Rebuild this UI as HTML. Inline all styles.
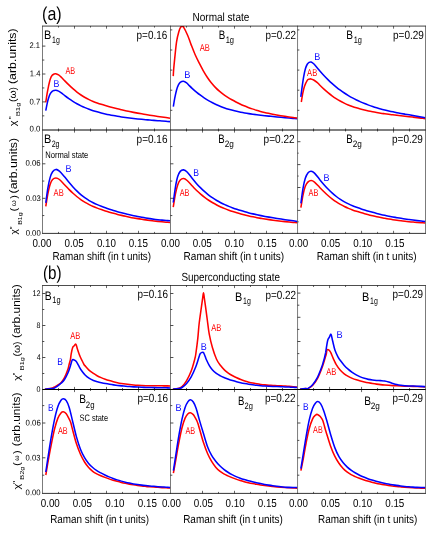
<!DOCTYPE html><html><head><meta charset="utf-8"><style>html,body{margin:0;padding:0;background:#fff}svg{display:block}svg{will-change:transform}text{font-family:"Liberation Sans",sans-serif;font-kerning:none}</style></head><body>
<svg xmlns="http://www.w3.org/2000/svg" width="436" height="545" viewBox="0 0 436 545">
<rect width="436" height="545" fill="#fff"/>
<defs>
<clipPath id="ca11"><rect x="42.50" y="26.10" width="128.00" height="103.90"/></clipPath>
<clipPath id="ca12"><rect x="170.50" y="26.10" width="127.05" height="103.90"/></clipPath>
<clipPath id="ca13"><rect x="297.55" y="26.10" width="127.95" height="103.90"/></clipPath>
<clipPath id="ca21"><rect x="42.50" y="130.00" width="128.00" height="103.40"/></clipPath>
<clipPath id="ca22"><rect x="170.50" y="130.00" width="127.05" height="103.40"/></clipPath>
<clipPath id="ca23"><rect x="297.55" y="130.00" width="127.95" height="103.40"/></clipPath>
<clipPath id="cb11"><rect x="42.50" y="285.50" width="128.00" height="104.70"/></clipPath>
<clipPath id="cb12"><rect x="170.50" y="285.50" width="127.05" height="104.70"/></clipPath>
<clipPath id="cb13"><rect x="297.55" y="285.50" width="127.95" height="104.70"/></clipPath>
<clipPath id="cb21"><rect x="42.50" y="389.50" width="128.00" height="103.90"/></clipPath>
<clipPath id="cb22"><rect x="170.50" y="389.50" width="127.05" height="103.90"/></clipPath>
<clipPath id="cb23"><rect x="297.55" y="389.50" width="127.95" height="103.90"/></clipPath>
</defs>
<g clip-path="url(#ca11)" fill="none" stroke-width="1.55" stroke-linejoin="round">
<path d="M45.75,110.70C45.98,109.55 46.64,105.87 47.10,103.80C47.56,101.73 47.97,99.98 48.50,98.30C49.03,96.62 49.68,94.85 50.30,93.70C50.92,92.55 51.58,91.93 52.20,91.40C52.82,90.87 53.40,90.70 54.00,90.50C54.60,90.30 55.03,90.10 55.80,90.20C56.57,90.30 57.68,90.67 58.60,91.10C59.52,91.53 60.27,92.04 61.30,92.80C62.33,93.56 63.54,94.69 64.80,95.67C66.06,96.66 67.50,97.75 68.85,98.70C70.19,99.65 71.54,100.54 72.89,101.38C74.24,102.22 75.59,103.01 76.94,103.75C78.29,104.49 79.64,105.18 80.98,105.83C82.33,106.48 83.68,107.08 85.03,107.66C86.38,108.23 87.73,108.75 89.08,109.25C90.43,109.75 91.77,110.21 93.12,110.65C94.47,111.09 95.82,111.49 97.17,111.87C98.52,112.26 99.87,112.61 101.22,112.96C102.56,113.30 103.91,113.62 105.26,113.92C106.61,114.23 107.96,114.52 109.31,114.80C110.66,115.08 112.01,115.34 113.35,115.59C114.70,115.84 116.05,116.07 117.40,116.30C118.75,116.53 120.10,116.74 121.45,116.94C122.79,117.15 124.14,117.34 125.49,117.52C126.84,117.71 128.19,117.88 129.54,118.04C130.89,118.21 132.24,118.37 133.58,118.52C134.93,118.67 136.28,118.81 137.63,118.94C138.98,119.08 140.33,119.21 141.68,119.34C143.03,119.46 144.37,119.58 145.72,119.70C147.07,119.81 148.42,119.93 149.77,120.04C151.12,120.15 152.47,120.25 153.82,120.36C155.16,120.47 156.51,120.57 157.86,120.67C159.21,120.78 160.56,120.88 161.91,120.99C163.26,121.09 164.61,121.20 165.95,121.30C167.30,121.41 169.33,121.58 170.00,121.63" stroke="#0000ff"/>
<path d="M45.75,102.40C45.98,100.95 46.64,96.38 47.10,93.70C47.56,91.02 47.97,88.75 48.50,86.30C49.03,83.85 49.68,80.83 50.30,79.00C50.92,77.17 51.58,76.12 52.20,75.30C52.82,74.47 53.40,74.32 54.00,74.05C54.60,73.78 55.03,73.56 55.80,73.70C56.57,73.84 57.68,74.32 58.60,74.90C59.52,75.48 60.27,76.21 61.30,77.20C62.33,78.19 63.54,79.56 64.80,80.84C66.06,82.13 67.50,83.61 68.85,84.92C70.19,86.22 71.54,87.48 72.89,88.67C74.24,89.86 75.59,91.00 76.94,92.05C78.29,93.10 79.64,94.09 80.98,95.00C82.33,95.91 83.68,96.73 85.03,97.50C86.38,98.28 87.73,98.97 89.08,99.63C90.43,100.28 91.77,100.88 93.12,101.44C94.47,102.00 95.82,102.50 97.17,102.99C98.52,103.47 99.87,103.92 101.22,104.35C102.56,104.78 103.91,105.19 105.26,105.59C106.61,105.99 107.96,106.37 109.31,106.75C110.66,107.12 112.01,107.48 113.35,107.83C114.70,108.18 116.05,108.52 117.40,108.85C118.75,109.19 120.10,109.50 121.45,109.82C122.79,110.13 124.14,110.43 125.49,110.72C126.84,111.01 128.19,111.29 129.54,111.57C130.89,111.85 132.24,112.11 133.58,112.37C134.93,112.63 136.28,112.88 137.63,113.13C138.98,113.38 140.33,113.62 141.68,113.85C143.03,114.08 144.37,114.31 145.72,114.53C147.07,114.76 148.42,114.98 149.77,115.19C151.12,115.40 152.47,115.61 153.82,115.82C155.16,116.02 156.51,116.22 157.86,116.42C159.21,116.62 160.56,116.82 161.91,117.01C163.26,117.20 164.61,117.39 165.95,117.58C167.30,117.77 169.33,118.06 170.00,118.15" stroke="#ff0000"/>
</g>
<g clip-path="url(#ca12)" fill="none" stroke-width="1.55" stroke-linejoin="round">
<path d="M173.30,106.70C173.53,105.32 174.17,101.15 174.70,98.40C175.23,95.65 175.90,92.42 176.50,90.20C177.10,87.98 177.68,86.40 178.30,85.10C178.92,83.80 179.35,83.05 180.20,82.40C181.05,81.75 182.33,81.13 183.40,81.20C184.47,81.27 185.62,82.07 186.60,82.80C187.58,83.53 188.33,84.64 189.30,85.60C190.27,86.56 191.21,87.48 192.40,88.56C193.59,89.64 195.08,90.97 196.43,92.09C197.77,93.20 199.11,94.25 200.45,95.24C201.80,96.24 203.14,97.18 204.48,98.06C205.82,98.95 207.17,99.78 208.51,100.56C209.85,101.35 211.19,102.08 212.53,102.78C213.88,103.47 215.22,104.11 216.56,104.72C217.90,105.33 219.25,105.89 220.59,106.43C221.93,106.96 223.27,107.45 224.62,107.92C225.96,108.38 227.30,108.81 228.64,109.22C229.98,109.62 231.33,110.00 232.67,110.35C234.01,110.71 235.35,111.03 236.70,111.34C238.04,111.65 239.38,111.94 240.72,112.21C242.07,112.48 243.41,112.73 244.75,112.97C246.09,113.21 247.43,113.43 248.78,113.64C250.12,113.85 251.46,114.04 252.80,114.23C254.15,114.42 255.49,114.59 256.83,114.76C258.17,114.93 259.52,115.09 260.86,115.25C262.20,115.41 263.54,115.56 264.88,115.71C266.23,115.86 267.57,116.00 268.91,116.14C270.25,116.29 271.60,116.42 272.94,116.56C274.28,116.69 275.62,116.83 276.97,116.96C278.31,117.08 279.65,117.21 280.99,117.34C282.33,117.46 283.68,117.59 285.02,117.71C286.36,117.83 287.70,117.95 289.05,118.07C290.39,118.19 291.73,118.31 293.07,118.43C294.42,118.55 296.43,118.73 297.10,118.79" stroke="#0000ff"/>
<path d="M173.25,76.10C173.32,74.92 173.45,72.00 173.70,69.00C173.95,66.00 174.27,62.67 174.75,58.10C175.23,53.53 175.91,46.03 176.60,41.60C177.29,37.17 178.22,33.90 178.90,31.50C179.58,29.10 180.17,28.03 180.70,27.20C181.23,26.37 181.65,26.55 182.10,26.50C182.55,26.45 182.48,25.45 183.40,26.90C184.32,28.35 186.44,32.60 187.60,35.20C188.76,37.80 189.77,40.93 190.35,42.50C190.93,44.07 190.30,42.55 191.10,44.60C191.90,46.65 193.82,51.69 195.18,54.79C196.54,57.89 197.89,60.55 199.25,63.22C200.61,65.88 201.97,68.41 203.33,70.78C204.69,73.16 206.05,75.43 207.41,77.48C208.77,79.52 210.13,81.36 211.48,83.05C212.84,84.74 214.20,86.24 215.56,87.63C216.92,89.02 218.28,90.25 219.64,91.40C221.00,92.56 222.36,93.58 223.72,94.56C225.07,95.54 226.43,96.42 227.79,97.29C229.15,98.15 230.51,98.96 231.87,99.74C233.23,100.52 234.59,101.26 235.95,101.97C237.31,102.67 238.66,103.34 240.02,103.98C241.38,104.62 242.74,105.22 244.10,105.80C245.46,106.37 246.82,106.91 248.18,107.43C249.54,107.95 250.89,108.43 252.25,108.89C253.61,109.36 254.97,109.79 256.33,110.21C257.69,110.62 259.05,111.01 260.41,111.38C261.77,111.75 263.13,112.09 264.48,112.42C265.84,112.76 267.20,113.07 268.56,113.36C269.92,113.66 271.28,113.94 272.64,114.21C274.00,114.47 275.36,114.72 276.72,114.97C278.07,115.21 279.43,115.44 280.79,115.67C282.15,115.89 283.51,116.10 284.87,116.31C286.23,116.52 287.59,116.72 288.95,116.92C290.31,117.12 291.66,117.31 293.02,117.51C294.38,117.70 296.42,117.99 297.10,118.09" stroke="#ff0000"/>
</g>
<g clip-path="url(#ca13)" fill="none" stroke-width="1.55" stroke-linejoin="round">
<path d="M301.30,102.00C301.53,100.60 302.17,96.22 302.70,93.60C303.23,90.98 303.74,88.52 304.50,86.30C305.26,84.08 306.48,81.48 307.25,80.30C308.02,79.12 308.49,79.43 309.10,79.20C309.71,78.97 310.13,78.77 310.90,78.90C311.67,79.03 312.62,79.38 313.70,80.00C314.77,80.62 316.32,81.73 317.35,82.60C318.38,83.47 318.80,84.13 319.90,85.22C321.00,86.32 322.60,87.92 323.95,89.16C325.30,90.41 326.65,91.59 328.00,92.71C329.35,93.82 330.70,94.87 332.05,95.86C333.40,96.85 334.75,97.77 336.10,98.64C337.45,99.50 338.80,100.30 340.15,101.05C341.50,101.80 342.85,102.48 344.20,103.13C345.55,103.78 346.90,104.37 348.25,104.92C349.60,105.48 350.95,105.99 352.30,106.47C353.65,106.95 355.00,107.39 356.35,107.80C357.70,108.22 359.05,108.60 360.40,108.97C361.75,109.33 363.10,109.67 364.45,110.00C365.80,110.32 367.15,110.63 368.50,110.92C369.85,111.21 371.20,111.48 372.55,111.75C373.90,112.01 375.25,112.25 376.60,112.49C377.95,112.72 379.30,112.94 380.65,113.15C382.00,113.37 383.35,113.56 384.70,113.76C386.05,113.95 387.40,114.13 388.75,114.31C390.10,114.49 391.45,114.65 392.80,114.82C394.15,114.98 395.50,115.14 396.85,115.30C398.20,115.45 399.55,115.61 400.90,115.76C402.25,115.91 403.60,116.06 404.95,116.21C406.30,116.36 407.65,116.51 409.00,116.66C410.35,116.81 411.70,116.97 413.05,117.13C414.40,117.29 415.75,117.45 417.10,117.62C418.45,117.79 419.80,117.96 421.15,118.14C422.50,118.33 424.52,118.62 425.20,118.71" stroke="#ff0000"/>
<path d="M300.80,96.80C301.03,95.05 301.73,89.58 302.20,86.30C302.67,83.02 303.07,80.02 303.60,77.10C304.13,74.18 304.79,70.94 305.40,68.80C306.01,66.66 306.63,65.32 307.25,64.25C307.87,63.18 308.46,62.77 309.10,62.40C309.74,62.02 310.33,61.77 311.10,62.00C311.87,62.23 312.66,62.82 313.70,63.80C314.74,64.78 316.28,66.65 317.35,67.90C318.42,69.15 318.97,69.98 320.10,71.29C321.23,72.61 322.79,74.35 324.14,75.78C325.49,77.21 326.84,78.58 328.18,79.89C329.53,81.20 330.88,82.45 332.23,83.65C333.57,84.84 334.92,85.98 336.27,87.07C337.62,88.16 338.96,89.20 340.31,90.19C341.66,91.18 343.01,92.12 344.35,93.01C345.70,93.91 347.05,94.76 348.40,95.58C349.74,96.39 351.09,97.16 352.44,97.89C353.79,98.63 355.13,99.32 356.48,99.98C357.83,100.65 359.18,101.27 360.52,101.88C361.87,102.48 363.22,103.04 364.57,103.59C365.91,104.13 367.26,104.65 368.61,105.14C369.96,105.63 371.30,106.10 372.65,106.54C374.00,106.99 375.34,107.41 376.69,107.81C378.04,108.21 379.39,108.60 380.73,108.96C382.08,109.33 383.43,109.67 384.78,110.01C386.12,110.34 387.47,110.66 388.82,110.96C390.17,111.27 391.51,111.56 392.86,111.84C394.21,112.12 395.56,112.39 396.90,112.65C398.25,112.92 399.60,113.17 400.95,113.42C402.29,113.67 403.64,113.91 404.99,114.15C406.34,114.39 407.68,114.63 409.03,114.86C410.38,115.10 411.73,115.33 413.07,115.57C414.42,115.80 415.77,116.04 417.12,116.28C418.46,116.52 419.81,116.76 421.16,117.01C422.51,117.27 424.53,117.66 425.20,117.79" stroke="#0000ff"/>
</g>
<g clip-path="url(#ca21)" fill="none" stroke-width="1.55" stroke-linejoin="round">
<path d="M45.80,206.40C46.13,204.35 47.08,197.77 47.80,194.10C48.52,190.43 49.30,186.83 50.10,184.40C50.90,181.97 51.63,180.57 52.60,179.50C53.57,178.43 54.77,178.00 55.90,178.00C57.03,178.00 58.00,178.42 59.40,179.50C60.80,180.58 62.71,182.81 64.30,184.46C65.89,186.11 67.50,187.94 68.95,189.41C70.39,190.87 71.64,192.04 72.99,193.26C74.34,194.48 75.69,195.64 77.04,196.73C78.39,197.81 79.74,198.82 81.08,199.76C82.43,200.69 83.78,201.55 85.13,202.35C86.48,203.15 87.83,203.88 89.18,204.57C90.53,205.26 91.87,205.89 93.22,206.48C94.57,207.07 95.92,207.61 97.27,208.13C98.62,208.65 99.97,209.13 101.32,209.59C102.66,210.06 104.01,210.50 105.36,210.92C106.71,211.35 108.06,211.76 109.41,212.16C110.76,212.56 112.11,212.94 113.45,213.31C114.80,213.68 116.15,214.04 117.50,214.38C118.85,214.73 120.20,215.06 121.55,215.37C122.89,215.69 124.24,216.00 125.59,216.29C126.94,216.58 128.29,216.86 129.64,217.14C130.99,217.41 132.34,217.67 133.68,217.91C135.03,218.16 136.38,218.40 137.73,218.63C139.08,218.86 140.43,219.07 141.78,219.28C143.13,219.49 144.47,219.69 145.82,219.88C147.17,220.07 148.52,220.25 149.87,220.43C151.22,220.60 152.57,220.77 153.92,220.92C155.26,221.08 156.61,221.23 157.96,221.38C159.31,221.52 160.66,221.66 162.01,221.79C163.36,221.92 164.71,222.04 166.05,222.16C167.40,222.28 169.43,222.44 170.10,222.50" stroke="#ff0000"/>
<path d="M45.80,202.90C46.13,200.47 47.08,192.52 47.80,188.30C48.52,184.08 49.30,180.37 50.10,177.60C50.90,174.83 51.63,173.07 52.60,171.70C53.57,170.33 54.77,169.48 55.90,169.40C57.03,169.32 58.00,170.01 59.40,171.20C60.80,172.39 62.71,174.69 64.30,176.53C65.89,178.38 67.50,180.53 68.95,182.26C70.39,183.99 71.64,185.43 72.99,186.92C74.34,188.40 75.69,189.85 77.04,191.17C78.39,192.50 79.74,193.74 81.08,194.87C82.43,196.00 83.78,197.03 85.13,197.98C86.48,198.93 87.83,199.79 89.18,200.59C90.53,201.39 91.87,202.10 93.22,202.78C94.57,203.45 95.92,204.06 97.27,204.64C98.62,205.23 99.97,205.76 101.32,206.27C102.66,206.79 104.01,207.28 105.36,207.75C106.71,208.23 108.06,208.69 109.41,209.14C110.76,209.59 112.11,210.02 113.45,210.44C114.80,210.86 116.15,211.26 117.50,211.65C118.85,212.05 120.20,212.42 121.55,212.79C122.89,213.15 124.24,213.50 125.59,213.84C126.94,214.18 128.29,214.50 129.64,214.82C130.99,215.13 132.34,215.43 133.68,215.72C135.03,216.01 136.38,216.28 137.73,216.55C139.08,216.81 140.43,217.06 141.78,217.30C143.13,217.55 144.47,217.78 145.82,217.99C147.17,218.21 148.52,218.42 149.87,218.62C151.22,218.82 152.57,219.00 153.92,219.18C155.26,219.36 156.61,219.52 157.96,219.68C159.31,219.84 160.66,219.99 162.01,220.12C163.36,220.26 164.71,220.39 166.05,220.51C167.40,220.63 169.43,220.79 170.10,220.84" stroke="#0000ff"/>
</g>
<g clip-path="url(#ca22)" fill="none" stroke-width="1.55" stroke-linejoin="round">
<path d="M173.25,207.20C173.61,205.02 174.66,197.80 175.40,194.10C176.14,190.40 176.89,187.33 177.70,185.00C178.51,182.67 179.27,181.17 180.25,180.10C181.23,179.03 182.46,178.53 183.60,178.60C184.74,178.67 185.65,179.26 187.10,180.50C188.55,181.74 190.71,184.38 192.30,186.06C193.89,187.73 195.23,189.20 196.62,190.56C198.01,191.91 199.31,193.03 200.65,194.18C201.99,195.32 203.33,196.39 204.67,197.41C206.01,198.43 207.35,199.38 208.69,200.27C210.03,201.17 211.37,202.00 212.72,202.79C214.06,203.57 215.40,204.30 216.74,204.99C218.08,205.68 219.42,206.32 220.76,206.93C222.10,207.54 223.44,208.10 224.78,208.64C226.13,209.18 227.47,209.68 228.81,210.16C230.15,210.64 231.49,211.10 232.83,211.54C234.17,211.98 235.51,212.39 236.85,212.80C238.19,213.20 239.54,213.58 240.88,213.95C242.22,214.32 243.56,214.67 244.90,215.00C246.24,215.34 247.58,215.66 248.92,215.96C250.26,216.27 251.61,216.56 252.95,216.84C254.29,217.12 255.63,217.38 256.97,217.64C258.31,217.89 259.65,218.13 260.99,218.37C262.33,218.60 263.67,218.82 265.02,219.03C266.36,219.24 267.70,219.44 269.04,219.63C270.38,219.83 271.72,220.01 273.06,220.19C274.40,220.36 275.74,220.53 277.08,220.70C278.43,220.86 279.77,221.02 281.11,221.17C282.45,221.32 283.79,221.47 285.13,221.62C286.47,221.76 287.81,221.90 289.15,222.04C290.49,222.18 291.84,222.31 293.18,222.44C294.52,222.58 296.53,222.77 297.20,222.84" stroke="#ff0000"/>
<path d="M173.25,202.50C173.61,199.97 174.66,191.62 175.40,187.30C176.14,182.98 176.89,179.25 177.70,176.60C178.51,173.95 179.27,172.49 180.25,171.38C181.23,170.26 182.46,169.80 183.60,169.89C184.74,169.98 185.65,170.51 187.10,171.94C188.55,173.37 190.71,176.49 192.30,178.45C193.89,180.40 195.23,182.09 196.62,183.67C198.01,185.24 199.31,186.57 200.65,187.91C201.99,189.25 203.33,190.51 204.67,191.70C206.01,192.89 207.35,194.00 208.69,195.04C210.03,196.08 211.37,197.05 212.72,197.96C214.06,198.87 215.40,199.70 216.74,200.49C218.08,201.29 219.42,202.02 220.76,202.71C222.10,203.40 223.44,204.04 224.78,204.64C226.13,205.25 227.47,205.82 228.81,206.36C230.15,206.90 231.49,207.41 232.83,207.90C234.17,208.40 235.51,208.87 236.85,209.32C238.19,209.77 239.54,210.20 240.88,210.61C242.22,211.03 243.56,211.42 244.90,211.80C246.24,212.18 247.58,212.54 248.92,212.88C250.26,213.23 251.61,213.56 252.95,213.87C254.29,214.19 255.63,214.49 256.97,214.79C258.31,215.08 259.65,215.36 260.99,215.63C262.33,215.89 263.67,216.15 265.02,216.40C266.36,216.65 267.70,216.89 269.04,217.12C270.38,217.35 271.72,217.58 273.06,217.80C274.40,218.02 275.74,218.23 277.08,218.44C278.43,218.65 279.77,218.85 281.11,219.05C282.45,219.25 283.79,219.45 285.13,219.65C286.47,219.84 287.81,220.04 289.15,220.23C290.49,220.43 291.84,220.62 293.18,220.82C294.52,221.02 296.53,221.32 297.20,221.42" stroke="#0000ff"/>
</g>
<g clip-path="url(#ca23)" fill="none" stroke-width="1.55" stroke-linejoin="round">
<path d="M300.90,207.70C301.25,205.60 302.27,198.67 303.00,195.10C303.73,191.53 304.45,188.50 305.30,186.30C306.15,184.10 307.12,182.87 308.10,181.90C309.08,180.93 310.13,180.47 311.20,180.50C312.27,180.53 313.15,181.02 314.50,182.10C315.85,183.18 318.35,185.97 319.30,186.96C320.25,187.95 319.38,187.19 320.20,188.04C321.02,188.88 322.89,190.75 324.24,192.03C325.58,193.31 326.93,194.55 328.28,195.72C329.62,196.89 330.97,198.00 332.32,199.04C333.66,200.08 335.01,201.04 336.35,201.94C337.70,202.84 339.05,203.65 340.39,204.42C341.74,205.19 343.08,205.89 344.43,206.54C345.78,207.20 347.12,207.79 348.47,208.36C349.82,208.92 351.16,209.44 352.51,209.93C353.85,210.42 355.20,210.87 356.55,211.31C357.89,211.75 359.24,212.16 360.58,212.56C361.93,212.96 363.28,213.35 364.62,213.72C365.97,214.09 367.32,214.45 368.66,214.80C370.01,215.14 371.35,215.48 372.70,215.80C374.05,216.12 375.39,216.43 376.74,216.72C378.08,217.02 379.43,217.30 380.78,217.58C382.12,217.85 383.47,218.11 384.82,218.36C386.16,218.61 387.51,218.85 388.85,219.07C390.20,219.30 391.55,219.52 392.89,219.72C394.24,219.93 395.58,220.13 396.93,220.31C398.28,220.50 399.62,220.67 400.97,220.84C402.32,221.01 403.66,221.16 405.01,221.31C406.35,221.46 407.70,221.60 409.05,221.73C410.39,221.86 411.74,221.98 413.08,222.09C414.43,222.21 415.78,222.31 417.12,222.41C418.47,222.50 419.82,222.59 421.16,222.68C422.51,222.76 424.53,222.86 425.20,222.90" stroke="#ff0000"/>
<path d="M300.90,203.30C301.25,200.80 302.27,192.48 303.00,188.30C303.73,184.12 304.45,180.80 305.30,178.20C306.15,175.60 307.12,173.87 308.10,172.70C309.08,171.53 310.13,171.13 311.20,171.20C312.27,171.27 313.15,171.81 314.50,173.10C315.85,174.39 318.35,177.73 319.30,178.91C320.25,180.09 319.38,179.19 320.20,180.18C321.02,181.18 322.89,183.39 324.24,184.90C325.58,186.41 326.93,187.87 328.28,189.24C329.62,190.61 330.97,191.91 332.32,193.12C333.66,194.33 335.01,195.46 336.35,196.50C337.70,197.54 339.05,198.49 340.39,199.38C341.74,200.27 343.08,201.07 344.43,201.83C345.78,202.59 347.12,203.27 348.47,203.92C349.82,204.56 351.16,205.15 352.51,205.71C353.85,206.27 355.20,206.78 356.55,207.28C357.89,207.78 359.24,208.24 360.58,208.70C361.93,209.15 363.28,209.59 364.62,210.01C365.97,210.43 367.32,210.84 368.66,211.23C370.01,211.63 371.35,212.01 372.70,212.37C374.05,212.74 375.39,213.09 376.74,213.43C378.08,213.77 379.43,214.10 380.78,214.41C382.12,214.73 383.47,215.03 384.82,215.32C386.16,215.61 387.51,215.89 388.85,216.16C390.20,216.43 391.55,216.69 392.89,216.95C394.24,217.20 395.58,217.44 396.93,217.67C398.28,217.90 399.62,218.13 400.97,218.34C402.32,218.56 403.66,218.77 405.01,218.97C406.35,219.17 407.70,219.37 409.05,219.56C410.39,219.74 411.74,219.93 413.08,220.10C414.43,220.28 415.78,220.45 417.12,220.62C418.47,220.78 419.82,220.94 421.16,221.10C422.51,221.26 424.53,221.49 425.20,221.57" stroke="#0000ff"/>
</g>
<g clip-path="url(#cb11)" fill="none" stroke-width="1.55" stroke-linejoin="round">
<path d="M44.90,389.20C46.03,389.03 49.98,388.63 51.70,388.20C53.42,387.77 54.15,387.15 55.20,386.60C56.25,386.05 57.03,385.54 58.00,384.90C58.97,384.26 59.92,383.95 61.00,382.75C62.08,381.55 63.33,379.99 64.50,377.70C65.67,375.41 67.23,371.20 68.00,369.00C68.77,366.80 68.70,366.07 69.10,364.50C69.50,362.93 70.05,361.37 70.40,359.60C70.75,357.83 70.83,355.87 71.20,353.90C71.57,351.93 72.10,349.15 72.60,347.80C73.10,346.45 73.65,346.40 74.20,345.80C74.75,345.20 75.37,343.67 75.90,344.20C76.43,344.73 76.87,347.37 77.40,349.00C77.93,350.63 78.63,352.72 79.10,354.00C79.57,355.28 79.73,355.65 80.20,356.70C80.67,357.75 81.27,359.00 81.90,360.30C82.53,361.60 83.50,363.61 84.00,364.50C84.50,365.39 84.07,364.69 84.90,365.62C85.73,366.55 87.60,368.82 88.96,370.08C90.31,371.34 91.66,372.25 93.01,373.19C94.37,374.12 95.72,374.96 97.07,375.70C98.42,376.44 99.78,377.07 101.13,377.66C102.48,378.24 103.83,378.73 105.19,379.22C106.54,379.70 107.89,380.14 109.24,380.55C110.60,380.96 111.95,381.34 113.30,381.69C114.65,382.04 116.00,382.36 117.36,382.65C118.71,382.94 120.06,383.20 121.41,383.44C122.77,383.68 124.12,383.90 125.47,384.09C126.82,384.28 128.18,384.45 129.53,384.60C130.88,384.75 132.23,384.88 133.59,385.00C134.94,385.11 136.29,385.21 137.64,385.29C139.00,385.38 140.35,385.45 141.70,385.50C143.05,385.56 144.40,385.61 145.76,385.65C147.11,385.68 148.46,385.71 149.81,385.73C151.17,385.76 152.52,385.77 153.87,385.79C155.22,385.80 156.58,385.81 157.93,385.82C159.28,385.82 160.63,385.83 161.99,385.84C163.34,385.85 164.69,385.86 166.04,385.87C167.40,385.89 169.42,385.92 170.10,385.93" stroke="#ff0000"/>
<path d="M44.90,389.20C46.04,389.10 50.23,388.77 51.75,388.60C53.27,388.43 53.04,388.62 54.00,388.20C54.96,387.78 56.33,386.92 57.50,386.10C58.67,385.28 59.83,384.40 61.00,383.30C62.17,382.20 63.33,381.25 64.50,379.50C65.67,377.75 67.02,375.07 68.00,372.80C68.98,370.53 69.68,368.05 70.40,365.90C71.12,363.75 71.67,360.88 72.30,359.90C72.93,358.92 73.53,359.75 74.20,360.00C74.87,360.25 75.60,360.53 76.30,361.40C77.00,362.27 77.57,363.73 78.40,365.20C79.23,366.67 80.14,368.57 81.30,370.24C82.46,371.91 83.99,373.83 85.34,375.20C86.68,376.56 88.03,377.56 89.37,378.44C90.72,379.31 92.06,379.90 93.41,380.45C94.75,381.01 96.10,381.38 97.45,381.76C98.79,382.14 100.14,382.44 101.48,382.74C102.83,383.03 104.17,383.29 105.52,383.54C106.86,383.79 108.21,384.02 109.55,384.24C110.90,384.46 112.25,384.67 113.59,384.86C114.94,385.05 116.28,385.23 117.63,385.40C118.97,385.56 120.32,385.71 121.66,385.86C123.01,386.00 124.35,386.13 125.70,386.25C127.05,386.37 128.39,386.48 129.74,386.59C131.08,386.69 132.43,386.78 133.77,386.86C135.12,386.95 136.46,387.02 137.81,387.09C139.15,387.16 140.50,387.22 141.85,387.28C143.19,387.33 144.54,387.38 145.88,387.43C147.23,387.47 148.57,387.51 149.92,387.54C151.26,387.58 152.61,387.61 153.95,387.64C155.30,387.67 156.65,387.69 157.99,387.72C159.34,387.74 160.68,387.76 162.03,387.78C163.37,387.80 164.72,387.82 166.06,387.84C167.41,387.86 169.43,387.89 170.10,387.90" stroke="#0000ff"/>
</g>
<g clip-path="url(#cb12)" fill="none" stroke-width="1.55" stroke-linejoin="round">
<path d="M172.90,389.20C173.70,389.10 176.18,389.03 177.70,388.60C179.22,388.17 180.52,387.93 182.00,386.60C183.48,385.27 185.07,383.20 186.60,380.60C188.13,378.00 189.98,374.05 191.20,371.00C192.42,367.95 193.27,364.47 193.90,362.30C194.53,360.13 194.68,359.38 195.00,358.00C195.32,356.62 195.33,357.28 195.80,354.00C196.27,350.72 197.25,343.30 197.80,338.30C198.35,333.30 198.50,329.20 199.10,324.00C199.70,318.80 200.82,311.35 201.40,307.10C201.98,302.85 202.25,300.88 202.60,298.50C202.95,296.12 203.20,292.80 203.50,292.80C203.80,292.80 204.05,296.12 204.40,298.50C204.75,300.88 205.12,303.52 205.60,307.10C206.08,310.68 206.70,315.55 207.30,320.00C207.90,324.45 208.35,329.22 209.20,333.80C210.05,338.38 211.18,343.27 212.40,347.50C213.62,351.73 215.17,356.19 216.53,359.20C217.89,362.21 219.22,363.74 220.57,365.56C221.91,367.37 223.26,368.80 224.60,370.09C225.94,371.39 227.29,372.38 228.63,373.32C229.98,374.27 231.32,375.02 232.67,375.76C234.01,376.51 235.36,377.18 236.70,377.81C238.04,378.44 239.39,379.01 240.73,379.53C242.08,380.06 243.42,380.53 244.77,380.97C246.11,381.41 247.46,381.79 248.80,382.15C250.14,382.50 251.49,382.81 252.83,383.09C254.18,383.38 255.52,383.62 256.87,383.84C258.21,384.06 259.56,384.25 260.90,384.42C262.24,384.60 263.59,384.74 264.93,384.87C266.28,385.00 267.62,385.11 268.97,385.20C270.31,385.30 271.66,385.39 273.00,385.47C274.34,385.54 275.69,385.61 277.03,385.68C278.38,385.75 279.72,385.81 281.07,385.88C282.41,385.95 283.76,386.01 285.10,386.09C286.44,386.17 287.79,386.25 289.13,386.35C290.48,386.45 291.82,386.55 293.17,386.68C294.51,386.81 296.53,387.05 297.20,387.12" stroke="#ff0000"/>
<path d="M172.90,389.20C173.87,389.10 177.18,388.88 178.70,388.60C180.22,388.32 180.68,388.37 182.00,387.50C183.32,386.63 185.07,385.17 186.60,383.40C188.13,381.63 189.67,379.67 191.20,376.90C192.73,374.13 194.58,369.85 195.80,366.80C197.02,363.75 197.88,360.50 198.50,358.60C199.12,356.70 199.20,356.27 199.50,355.40C199.80,354.53 199.93,353.87 200.30,353.40C200.67,352.93 201.20,352.77 201.70,352.60C202.20,352.43 202.87,352.12 203.30,352.40C203.73,352.68 203.97,353.57 204.30,354.30C204.63,355.03 204.97,355.93 205.30,356.80C205.63,357.67 205.60,357.98 206.30,359.50C207.00,361.02 208.50,364.21 209.50,365.90C210.50,367.59 211.16,368.39 212.30,369.66C213.44,370.92 215.00,372.44 216.34,373.48C217.69,374.52 219.04,375.20 220.39,375.90C221.73,376.60 223.08,377.14 224.43,377.70C225.78,378.26 227.12,378.78 228.47,379.26C229.82,379.74 231.17,380.18 232.51,380.60C233.86,381.01 235.21,381.39 236.56,381.75C237.90,382.10 239.25,382.42 240.60,382.73C241.95,383.03 243.30,383.30 244.64,383.56C245.99,383.81 247.34,384.04 248.69,384.25C250.03,384.46 251.38,384.65 252.73,384.82C254.08,385.00 255.42,385.15 256.77,385.29C258.12,385.44 259.47,385.56 260.81,385.67C262.16,385.79 263.51,385.89 264.86,385.98C266.20,386.07 267.55,386.15 268.90,386.23C270.25,386.30 271.60,386.36 272.94,386.43C274.29,386.49 275.64,386.54 276.99,386.60C278.33,386.66 279.68,386.71 281.03,386.76C282.38,386.81 283.72,386.86 285.07,386.92C286.42,386.97 287.77,387.03 289.11,387.09C290.46,387.16 291.81,387.22 293.16,387.30C294.50,387.38 296.53,387.51 297.20,387.56" stroke="#0000ff"/>
</g>
<g clip-path="url(#cb13)" fill="none" stroke-width="1.55" stroke-linejoin="round">
<path d="M300.00,389.20C300.95,389.10 304.27,388.73 305.70,388.60C307.13,388.47 307.35,389.05 308.60,388.40C309.85,387.75 311.67,386.45 313.20,384.70C314.73,382.95 316.27,380.88 317.80,377.90C319.33,374.92 321.17,370.17 322.40,366.80C323.63,363.43 324.55,359.83 325.20,357.70C325.85,355.57 325.98,355.32 326.30,354.00C326.62,352.68 326.60,350.42 327.10,349.80C327.60,349.18 328.68,349.83 329.30,350.30C329.92,350.77 330.17,351.30 330.80,352.60C331.43,353.90 332.47,356.65 333.10,358.10C333.73,359.55 334.10,360.26 334.60,361.30C335.10,362.34 335.18,362.86 336.10,364.33C337.03,365.80 338.80,368.54 340.15,370.12C341.50,371.71 342.85,372.78 344.20,373.84C345.55,374.89 346.90,375.69 348.25,376.44C349.60,377.20 350.95,377.80 352.30,378.36C353.65,378.91 355.00,379.36 356.35,379.79C357.70,380.22 359.05,380.59 360.40,380.95C361.75,381.31 363.10,381.64 364.45,381.94C365.80,382.25 367.15,382.53 368.50,382.80C369.85,383.06 371.20,383.30 372.55,383.52C373.90,383.74 375.25,383.94 376.60,384.12C377.95,384.30 379.30,384.47 380.65,384.62C382.00,384.77 383.35,384.90 384.70,385.02C386.05,385.14 387.40,385.25 388.75,385.35C390.10,385.45 391.45,385.53 392.80,385.61C394.15,385.69 395.50,385.75 396.85,385.82C398.20,385.88 399.55,385.93 400.90,385.98C402.25,386.03 403.60,386.08 404.95,386.12C406.30,386.17 407.65,386.21 409.00,386.25C410.35,386.29 411.70,386.33 413.05,386.38C414.40,386.42 415.75,386.47 417.10,386.52C418.45,386.57 419.80,386.62 421.15,386.68C422.50,386.74 424.52,386.85 425.20,386.89" stroke="#ff0000"/>
<path d="M300.00,389.20C300.95,389.10 304.37,388.73 305.70,388.60C307.03,388.47 306.85,389.05 308.00,388.40C309.15,387.75 311.07,386.45 312.60,384.70C314.13,382.95 315.67,380.88 317.20,377.90C318.73,374.92 320.78,369.45 321.80,366.80C322.82,364.15 322.85,363.52 323.30,362.00C323.75,360.48 324.13,359.15 324.50,357.70C324.87,356.25 325.28,354.30 325.50,353.30C325.72,352.30 325.45,353.80 325.80,351.70C326.15,349.60 327.00,343.12 327.60,340.70C328.20,338.28 328.83,338.27 329.40,337.20C329.97,336.13 330.47,333.72 331.00,334.30C331.53,334.88 331.95,338.10 332.60,340.70C333.25,343.30 333.98,347.15 334.90,349.90C335.82,352.65 337.25,355.50 338.10,357.20C338.95,358.90 339.01,358.76 340.00,360.08C340.99,361.41 342.70,363.65 344.06,365.15C345.41,366.66 346.76,367.92 348.11,369.11C349.47,370.31 350.82,371.35 352.17,372.31C353.52,373.27 354.88,374.12 356.23,374.88C357.58,375.63 358.93,376.28 360.29,376.86C361.64,377.44 362.99,377.92 364.34,378.34C365.70,378.76 367.05,379.10 368.40,379.38C369.75,379.67 371.10,379.88 372.46,380.05C373.81,380.22 375.16,380.33 376.51,380.42C377.87,380.52 379.22,380.53 380.57,380.62C381.92,380.72 383.28,380.74 384.63,380.97C385.98,381.20 387.33,381.59 388.69,381.99C390.04,382.39 391.39,382.96 392.74,383.39C394.10,383.81 395.45,384.23 396.80,384.55C398.15,384.87 399.50,385.11 400.86,385.31C402.21,385.51 403.56,385.64 404.91,385.75C406.27,385.86 407.62,385.92 408.97,385.98C410.32,386.03 411.68,386.05 413.03,386.09C414.38,386.12 415.73,386.14 417.09,386.18C418.44,386.23 419.79,386.27 421.14,386.36C422.50,386.44 424.52,386.65 425.20,386.71" stroke="#0000ff"/>
</g>
<g clip-path="url(#cb21)" fill="none" stroke-width="1.55" stroke-linejoin="round">
<path d="M45.80,475.00C46.20,472.65 47.28,466.00 48.20,460.90C49.12,455.80 50.23,449.75 51.30,444.40C52.37,439.05 53.50,433.18 54.60,428.80C55.70,424.42 56.83,420.75 57.90,418.10C58.97,415.45 60.10,413.97 61.00,412.90C61.90,411.83 62.42,411.57 63.30,411.70C64.17,411.83 65.27,412.47 66.25,413.70C67.23,414.93 68.44,417.59 69.20,419.10C69.96,420.61 70.28,421.15 70.80,422.75C71.32,424.35 71.37,425.20 72.30,428.67C73.23,432.15 75.02,439.34 76.38,443.61C77.74,447.88 79.10,451.21 80.46,454.28C81.82,457.35 83.18,459.82 84.54,462.03C85.90,464.24 87.26,465.98 88.62,467.51C89.98,469.05 91.34,470.22 92.70,471.27C94.06,472.32 95.42,473.08 96.78,473.82C98.13,474.57 99.49,475.13 100.85,475.72C102.21,476.31 103.57,476.85 104.93,477.38C106.29,477.90 107.65,478.40 109.01,478.86C110.37,479.33 111.73,479.77 113.09,480.19C114.45,480.61 115.81,481.00 117.17,481.37C118.53,481.74 119.89,482.09 121.25,482.41C122.61,482.74 123.97,483.04 125.33,483.33C126.69,483.61 128.05,483.88 129.41,484.13C130.77,484.38 132.13,484.60 133.49,484.82C134.85,485.04 136.21,485.23 137.57,485.42C138.93,485.60 140.29,485.77 141.65,485.93C143.01,486.09 144.37,486.23 145.72,486.37C147.08,486.51 148.44,486.63 149.80,486.75C151.16,486.86 152.52,486.97 153.88,487.07C155.24,487.17 156.60,487.27 157.96,487.35C159.32,487.44 160.68,487.53 162.04,487.61C163.40,487.69 164.76,487.76 166.12,487.84C167.48,487.91 169.52,488.02 170.20,488.06" stroke="#ff0000"/>
<path d="M45.80,472.00C46.20,469.35 47.28,462.00 48.20,456.10C49.12,450.20 50.23,442.77 51.30,436.60C52.37,430.43 53.50,424.12 54.60,419.10C55.70,414.08 56.83,409.63 57.90,406.50C58.97,403.37 60.10,401.60 61.00,400.30C61.90,399.00 62.42,398.65 63.30,398.70C64.17,398.75 65.27,399.15 66.25,400.60C67.23,402.05 68.23,404.32 69.20,407.40C70.17,410.48 70.90,414.23 72.10,419.10C73.30,423.97 74.99,431.61 76.38,436.63C77.77,441.65 79.10,445.71 80.46,449.22C81.82,452.72 83.18,455.29 84.54,457.65C85.90,460.02 87.26,461.75 88.62,463.40C89.98,465.04 91.34,466.34 92.70,467.54C94.06,468.73 95.42,469.66 96.78,470.56C98.13,471.46 99.49,472.19 100.85,472.93C102.21,473.67 103.57,474.35 104.93,475.00C106.29,475.65 107.65,476.26 109.01,476.84C110.37,477.41 111.73,477.95 113.09,478.46C114.45,478.97 115.81,479.44 117.17,479.88C118.53,480.32 119.89,480.73 121.25,481.12C122.61,481.50 123.97,481.86 125.33,482.19C126.69,482.52 128.05,482.82 129.41,483.11C130.77,483.39 132.13,483.65 133.49,483.89C134.85,484.13 136.21,484.35 137.57,484.55C138.93,484.76 140.29,484.94 141.65,485.11C143.01,485.29 144.37,485.44 145.72,485.59C147.08,485.74 148.44,485.87 149.80,485.99C151.16,486.12 152.52,486.23 153.88,486.34C155.24,486.45 156.60,486.55 157.96,486.65C159.32,486.75 160.68,486.85 162.04,486.94C163.40,487.04 164.76,487.13 166.12,487.23C167.48,487.32 169.52,487.47 170.20,487.52" stroke="#0000ff"/>
</g>
<g clip-path="url(#cb22)" fill="none" stroke-width="1.55" stroke-linejoin="round">
<path d="M173.40,473.20C173.80,470.98 174.92,464.87 175.80,459.90C176.68,454.93 177.67,448.75 178.70,443.40C179.73,438.05 180.93,432.02 182.00,427.80C183.07,423.58 184.10,420.43 185.10,418.10C186.10,415.77 187.12,414.70 188.00,413.80C188.88,412.90 189.52,412.57 190.40,412.70C191.28,412.83 192.50,413.78 193.30,414.60C194.10,415.42 194.62,416.62 195.20,417.60C195.77,418.58 196.27,419.42 196.75,420.50C197.23,421.58 197.66,422.77 198.10,424.10C198.54,425.43 198.50,425.40 199.40,428.48C200.30,431.55 202.12,438.39 203.47,442.56C204.83,446.74 206.19,450.38 207.55,453.53C208.91,456.67 210.27,459.16 211.62,461.43C212.98,463.69 214.34,465.51 215.70,467.13C217.06,468.74 218.42,469.99 219.78,471.11C221.13,472.24 222.49,473.08 223.85,473.87C225.21,474.67 226.57,475.27 227.93,475.89C229.28,476.52 230.64,477.06 232.00,477.60C233.36,478.14 234.72,478.65 236.07,479.12C237.43,479.60 238.79,480.05 240.15,480.47C241.51,480.89 242.87,481.28 244.22,481.65C245.58,482.02 246.94,482.36 248.30,482.69C249.66,483.01 251.02,483.31 252.38,483.58C253.73,483.86 255.09,484.12 256.45,484.36C257.81,484.60 259.17,484.82 260.52,485.03C261.88,485.23 263.24,485.42 264.60,485.60C265.96,485.77 267.32,485.93 268.68,486.08C270.03,486.23 271.39,486.37 272.75,486.50C274.11,486.63 275.47,486.75 276.82,486.86C278.18,486.97 279.54,487.08 280.90,487.18C282.26,487.28 283.62,487.37 284.98,487.46C286.33,487.55 287.69,487.64 289.05,487.73C290.41,487.82 291.77,487.90 293.12,487.99C294.48,488.08 296.52,488.22 297.20,488.26" stroke="#ff0000"/>
<path d="M173.40,470.60C173.80,468.02 174.92,460.77 175.80,455.10C176.68,449.43 177.67,442.60 178.70,436.60C179.73,430.60 180.93,423.97 182.00,419.10C183.07,414.23 184.10,410.32 185.10,407.40C186.10,404.48 187.12,402.88 188.00,401.60C188.88,400.32 189.52,399.63 190.40,399.70C191.28,399.77 192.33,400.55 193.30,402.00C194.27,403.45 195.20,405.47 196.20,408.40C197.20,411.33 198.09,415.41 199.30,419.60C200.51,423.79 202.10,429.00 203.47,433.51C204.85,438.03 206.19,443.01 207.55,446.67C208.91,450.33 210.27,453.03 211.62,455.46C212.98,457.90 214.34,459.55 215.70,461.27C217.06,462.99 218.42,464.44 219.78,465.79C221.13,467.14 222.49,468.30 223.85,469.37C225.21,470.45 226.57,471.37 227.93,472.25C229.28,473.13 230.64,473.90 232.00,474.63C233.36,475.35 234.72,476.00 236.07,476.60C237.43,477.20 238.79,477.74 240.15,478.24C241.51,478.74 242.87,479.19 244.22,479.61C245.58,480.03 246.94,480.40 248.30,480.76C249.66,481.13 251.02,481.45 252.38,481.78C253.73,482.10 255.09,482.41 256.45,482.71C257.81,483.01 259.17,483.31 260.52,483.59C261.88,483.87 263.24,484.14 264.60,484.39C265.96,484.65 267.32,484.89 268.68,485.12C270.03,485.35 271.39,485.57 272.75,485.77C274.11,485.98 275.47,486.16 276.82,486.33C278.18,486.50 279.54,486.66 280.90,486.79C282.26,486.93 283.62,487.05 284.98,487.15C286.33,487.25 287.69,487.33 289.05,487.39C290.41,487.45 291.77,487.49 293.12,487.51C294.48,487.53 296.52,487.50 297.20,487.50" stroke="#0000ff"/>
</g>
<g clip-path="url(#cb23)" fill="none" stroke-width="1.55" stroke-linejoin="round">
<path d="M300.90,470.60C301.32,468.50 302.53,462.60 303.40,458.00C304.27,453.40 305.13,447.87 306.10,443.00C307.07,438.13 308.13,432.78 309.20,428.80C310.27,424.82 311.47,421.37 312.50,419.10C313.53,416.83 314.58,415.98 315.40,415.20C316.22,414.42 316.58,414.17 317.40,414.40C318.22,414.63 319.42,415.62 320.30,416.60C321.18,417.58 321.85,418.13 322.70,420.30C323.55,422.47 324.78,427.49 325.40,429.60C326.02,431.71 325.55,430.20 326.40,432.93C327.25,435.66 329.14,442.15 330.52,445.99C331.89,449.83 333.26,453.12 334.63,455.95C336.01,458.79 337.38,460.94 338.75,462.98C340.12,465.01 341.49,466.68 342.87,468.17C344.24,469.66 345.61,470.85 346.98,471.92C348.36,472.99 349.73,473.82 351.10,474.60C352.47,475.39 353.84,475.99 355.22,476.61C356.59,477.22 357.96,477.75 359.33,478.28C360.71,478.81 362.08,479.30 363.45,479.76C364.82,480.23 366.19,480.67 367.57,481.08C368.94,481.49 370.31,481.87 371.68,482.23C373.06,482.58 374.43,482.92 375.80,483.23C377.17,483.54 378.54,483.83 379.92,484.10C381.29,484.36 382.66,484.61 384.03,484.84C385.41,485.07 386.78,485.28 388.15,485.47C389.52,485.67 390.89,485.85 392.27,486.01C393.64,486.18 395.01,486.32 396.38,486.46C397.76,486.60 399.13,486.73 400.50,486.84C401.87,486.96 403.24,487.07 404.62,487.17C405.99,487.27 407.36,487.36 408.73,487.44C410.11,487.53 411.48,487.61 412.85,487.69C414.22,487.76 415.59,487.84 416.97,487.91C418.34,487.98 419.71,488.05 421.08,488.12C422.46,488.20 424.51,488.31 425.20,488.34" stroke="#ff0000"/>
<path d="M300.90,468.70C301.32,466.10 302.53,458.45 303.40,453.10C304.27,447.75 305.13,442.10 306.10,436.60C307.07,431.10 308.13,424.80 309.20,420.10C310.27,415.40 311.47,411.22 312.50,408.40C313.53,405.58 314.52,404.33 315.40,403.20C316.28,402.07 316.92,401.48 317.80,401.60C318.68,401.72 319.73,402.43 320.70,403.90C321.67,405.37 322.62,407.72 323.60,410.40C324.58,413.08 325.38,415.83 326.60,420.00C327.82,424.17 329.50,430.74 330.90,435.42C332.30,440.11 333.63,444.52 335.00,448.11C336.37,451.70 337.73,454.51 339.10,456.96C340.47,459.40 341.83,461.08 343.20,462.77C344.57,464.46 345.93,465.83 347.30,467.10C348.67,468.37 350.03,469.43 351.40,470.42C352.77,471.41 354.13,472.23 355.50,473.03C356.87,473.83 358.23,474.53 359.60,475.21C360.97,475.88 362.33,476.50 363.70,477.07C365.07,477.65 366.43,478.17 367.80,478.67C369.17,479.16 370.53,479.61 371.90,480.03C373.27,480.46 374.63,480.84 376.00,481.21C377.37,481.57 378.73,481.91 380.10,482.23C381.47,482.56 382.83,482.86 384.20,483.15C385.57,483.44 386.93,483.72 388.30,483.98C389.67,484.24 391.03,484.49 392.40,484.72C393.77,484.95 395.13,485.17 396.50,485.38C397.87,485.58 399.23,485.77 400.60,485.94C401.97,486.12 403.33,486.28 404.70,486.42C406.07,486.57 407.43,486.70 408.80,486.82C410.17,486.94 411.53,487.04 412.90,487.13C414.27,487.22 415.63,487.30 417.00,487.36C418.37,487.42 419.73,487.47 421.10,487.50C422.47,487.54 424.52,487.55 425.20,487.56" stroke="#0000ff"/>
</g>
<g stroke="#000" fill="none">
<line x1="42.25" y1="26.08" x2="425.75" y2="26.08" stroke-width="0.75"/>
<line x1="42.25" y1="130.00" x2="425.75" y2="130.00" stroke-width="1.00"/>
<line x1="42.25" y1="233.40" x2="425.75" y2="233.40" stroke-width="0.80"/>
<line x1="42.50" y1="25.70" x2="42.50" y2="233.80" stroke-width="0.52"/>
<line x1="170.50" y1="25.70" x2="170.50" y2="233.80" stroke-width="0.52"/>
<line x1="297.55" y1="25.70" x2="297.55" y2="233.80" stroke-width="0.52"/>
<line x1="425.50" y1="25.70" x2="425.50" y2="233.80" stroke-width="0.52"/>
<line x1="58.50" y1="26.08" x2="58.50" y2="27.58" stroke-width="0.60"/>
<line x1="58.50" y1="128.50" x2="58.50" y2="131.50" stroke-width="0.60"/>
<line x1="58.50" y1="231.90" x2="58.50" y2="233.40" stroke-width="0.60"/>
<line x1="74.50" y1="26.08" x2="74.50" y2="28.68" stroke-width="0.60"/>
<line x1="74.50" y1="127.40" x2="74.50" y2="132.60" stroke-width="0.60"/>
<line x1="74.50" y1="230.80" x2="74.50" y2="233.40" stroke-width="0.60"/>
<line x1="90.50" y1="26.08" x2="90.50" y2="27.58" stroke-width="0.60"/>
<line x1="90.50" y1="128.50" x2="90.50" y2="131.50" stroke-width="0.60"/>
<line x1="90.50" y1="231.90" x2="90.50" y2="233.40" stroke-width="0.60"/>
<line x1="106.50" y1="26.08" x2="106.50" y2="28.68" stroke-width="0.60"/>
<line x1="106.50" y1="127.40" x2="106.50" y2="132.60" stroke-width="0.60"/>
<line x1="106.50" y1="230.80" x2="106.50" y2="233.40" stroke-width="0.60"/>
<line x1="122.50" y1="26.08" x2="122.50" y2="27.58" stroke-width="0.60"/>
<line x1="122.50" y1="128.50" x2="122.50" y2="131.50" stroke-width="0.60"/>
<line x1="122.50" y1="231.90" x2="122.50" y2="233.40" stroke-width="0.60"/>
<line x1="138.50" y1="26.08" x2="138.50" y2="28.68" stroke-width="0.60"/>
<line x1="138.50" y1="127.40" x2="138.50" y2="132.60" stroke-width="0.60"/>
<line x1="138.50" y1="230.80" x2="138.50" y2="233.40" stroke-width="0.60"/>
<line x1="154.50" y1="26.08" x2="154.50" y2="27.58" stroke-width="0.60"/>
<line x1="154.50" y1="128.50" x2="154.50" y2="131.50" stroke-width="0.60"/>
<line x1="154.50" y1="231.90" x2="154.50" y2="233.40" stroke-width="0.60"/>
<line x1="186.50" y1="26.08" x2="186.50" y2="27.58" stroke-width="0.60"/>
<line x1="186.50" y1="128.50" x2="186.50" y2="131.50" stroke-width="0.60"/>
<line x1="186.50" y1="231.90" x2="186.50" y2="233.40" stroke-width="0.60"/>
<line x1="202.50" y1="26.08" x2="202.50" y2="28.68" stroke-width="0.60"/>
<line x1="202.50" y1="127.40" x2="202.50" y2="132.60" stroke-width="0.60"/>
<line x1="202.50" y1="230.80" x2="202.50" y2="233.40" stroke-width="0.60"/>
<line x1="218.50" y1="26.08" x2="218.50" y2="27.58" stroke-width="0.60"/>
<line x1="218.50" y1="128.50" x2="218.50" y2="131.50" stroke-width="0.60"/>
<line x1="218.50" y1="231.90" x2="218.50" y2="233.40" stroke-width="0.60"/>
<line x1="234.50" y1="26.08" x2="234.50" y2="28.68" stroke-width="0.60"/>
<line x1="234.50" y1="127.40" x2="234.50" y2="132.60" stroke-width="0.60"/>
<line x1="234.50" y1="230.80" x2="234.50" y2="233.40" stroke-width="0.60"/>
<line x1="250.50" y1="26.08" x2="250.50" y2="27.58" stroke-width="0.60"/>
<line x1="250.50" y1="128.50" x2="250.50" y2="131.50" stroke-width="0.60"/>
<line x1="250.50" y1="231.90" x2="250.50" y2="233.40" stroke-width="0.60"/>
<line x1="266.50" y1="26.08" x2="266.50" y2="28.68" stroke-width="0.60"/>
<line x1="266.50" y1="127.40" x2="266.50" y2="132.60" stroke-width="0.60"/>
<line x1="266.50" y1="230.80" x2="266.50" y2="233.40" stroke-width="0.60"/>
<line x1="282.50" y1="26.08" x2="282.50" y2="27.58" stroke-width="0.60"/>
<line x1="282.50" y1="128.50" x2="282.50" y2="131.50" stroke-width="0.60"/>
<line x1="282.50" y1="231.90" x2="282.50" y2="233.40" stroke-width="0.60"/>
<line x1="313.55" y1="26.08" x2="313.55" y2="27.58" stroke-width="0.60"/>
<line x1="313.55" y1="128.50" x2="313.55" y2="131.50" stroke-width="0.60"/>
<line x1="313.55" y1="231.90" x2="313.55" y2="233.40" stroke-width="0.60"/>
<line x1="329.55" y1="26.08" x2="329.55" y2="28.68" stroke-width="0.60"/>
<line x1="329.55" y1="127.40" x2="329.55" y2="132.60" stroke-width="0.60"/>
<line x1="329.55" y1="230.80" x2="329.55" y2="233.40" stroke-width="0.60"/>
<line x1="345.55" y1="26.08" x2="345.55" y2="27.58" stroke-width="0.60"/>
<line x1="345.55" y1="128.50" x2="345.55" y2="131.50" stroke-width="0.60"/>
<line x1="345.55" y1="231.90" x2="345.55" y2="233.40" stroke-width="0.60"/>
<line x1="361.55" y1="26.08" x2="361.55" y2="28.68" stroke-width="0.60"/>
<line x1="361.55" y1="127.40" x2="361.55" y2="132.60" stroke-width="0.60"/>
<line x1="361.55" y1="230.80" x2="361.55" y2="233.40" stroke-width="0.60"/>
<line x1="377.55" y1="26.08" x2="377.55" y2="27.58" stroke-width="0.60"/>
<line x1="377.55" y1="128.50" x2="377.55" y2="131.50" stroke-width="0.60"/>
<line x1="377.55" y1="231.90" x2="377.55" y2="233.40" stroke-width="0.60"/>
<line x1="393.55" y1="26.08" x2="393.55" y2="28.68" stroke-width="0.60"/>
<line x1="393.55" y1="127.40" x2="393.55" y2="132.60" stroke-width="0.60"/>
<line x1="393.55" y1="230.80" x2="393.55" y2="233.40" stroke-width="0.60"/>
<line x1="409.55" y1="26.08" x2="409.55" y2="27.58" stroke-width="0.60"/>
<line x1="409.55" y1="128.50" x2="409.55" y2="131.50" stroke-width="0.60"/>
<line x1="409.55" y1="231.90" x2="409.55" y2="233.40" stroke-width="0.60"/>
<line x1="42.25" y1="285.50" x2="425.75" y2="285.50" stroke-width="0.70"/>
<line x1="42.25" y1="389.50" x2="425.75" y2="389.50" stroke-width="1.05"/>
<line x1="42.25" y1="493.40" x2="425.75" y2="493.40" stroke-width="0.80"/>
<line x1="42.50" y1="285.15" x2="42.50" y2="493.80" stroke-width="0.52"/>
<line x1="170.50" y1="285.15" x2="170.50" y2="493.80" stroke-width="0.52"/>
<line x1="297.55" y1="285.15" x2="297.55" y2="493.80" stroke-width="0.52"/>
<line x1="425.50" y1="285.15" x2="425.50" y2="493.80" stroke-width="0.52"/>
<line x1="58.50" y1="285.50" x2="58.50" y2="287.00" stroke-width="0.60"/>
<line x1="58.50" y1="388.00" x2="58.50" y2="391.00" stroke-width="0.60"/>
<line x1="58.50" y1="491.90" x2="58.50" y2="493.40" stroke-width="0.60"/>
<line x1="74.50" y1="285.50" x2="74.50" y2="288.10" stroke-width="0.60"/>
<line x1="74.50" y1="386.90" x2="74.50" y2="392.10" stroke-width="0.60"/>
<line x1="74.50" y1="490.80" x2="74.50" y2="493.40" stroke-width="0.60"/>
<line x1="90.50" y1="285.50" x2="90.50" y2="287.00" stroke-width="0.60"/>
<line x1="90.50" y1="388.00" x2="90.50" y2="391.00" stroke-width="0.60"/>
<line x1="90.50" y1="491.90" x2="90.50" y2="493.40" stroke-width="0.60"/>
<line x1="106.50" y1="285.50" x2="106.50" y2="288.10" stroke-width="0.60"/>
<line x1="106.50" y1="386.90" x2="106.50" y2="392.10" stroke-width="0.60"/>
<line x1="106.50" y1="490.80" x2="106.50" y2="493.40" stroke-width="0.60"/>
<line x1="122.50" y1="285.50" x2="122.50" y2="287.00" stroke-width="0.60"/>
<line x1="122.50" y1="388.00" x2="122.50" y2="391.00" stroke-width="0.60"/>
<line x1="122.50" y1="491.90" x2="122.50" y2="493.40" stroke-width="0.60"/>
<line x1="138.50" y1="285.50" x2="138.50" y2="288.10" stroke-width="0.60"/>
<line x1="138.50" y1="386.90" x2="138.50" y2="392.10" stroke-width="0.60"/>
<line x1="138.50" y1="490.80" x2="138.50" y2="493.40" stroke-width="0.60"/>
<line x1="154.50" y1="285.50" x2="154.50" y2="287.00" stroke-width="0.60"/>
<line x1="154.50" y1="388.00" x2="154.50" y2="391.00" stroke-width="0.60"/>
<line x1="154.50" y1="491.90" x2="154.50" y2="493.40" stroke-width="0.60"/>
<line x1="186.50" y1="285.50" x2="186.50" y2="287.00" stroke-width="0.60"/>
<line x1="186.50" y1="388.00" x2="186.50" y2="391.00" stroke-width="0.60"/>
<line x1="186.50" y1="491.90" x2="186.50" y2="493.40" stroke-width="0.60"/>
<line x1="202.50" y1="285.50" x2="202.50" y2="288.10" stroke-width="0.60"/>
<line x1="202.50" y1="386.90" x2="202.50" y2="392.10" stroke-width="0.60"/>
<line x1="202.50" y1="490.80" x2="202.50" y2="493.40" stroke-width="0.60"/>
<line x1="218.50" y1="285.50" x2="218.50" y2="287.00" stroke-width="0.60"/>
<line x1="218.50" y1="388.00" x2="218.50" y2="391.00" stroke-width="0.60"/>
<line x1="218.50" y1="491.90" x2="218.50" y2="493.40" stroke-width="0.60"/>
<line x1="234.50" y1="285.50" x2="234.50" y2="288.10" stroke-width="0.60"/>
<line x1="234.50" y1="386.90" x2="234.50" y2="392.10" stroke-width="0.60"/>
<line x1="234.50" y1="490.80" x2="234.50" y2="493.40" stroke-width="0.60"/>
<line x1="250.50" y1="285.50" x2="250.50" y2="287.00" stroke-width="0.60"/>
<line x1="250.50" y1="388.00" x2="250.50" y2="391.00" stroke-width="0.60"/>
<line x1="250.50" y1="491.90" x2="250.50" y2="493.40" stroke-width="0.60"/>
<line x1="266.50" y1="285.50" x2="266.50" y2="288.10" stroke-width="0.60"/>
<line x1="266.50" y1="386.90" x2="266.50" y2="392.10" stroke-width="0.60"/>
<line x1="266.50" y1="490.80" x2="266.50" y2="493.40" stroke-width="0.60"/>
<line x1="282.50" y1="285.50" x2="282.50" y2="287.00" stroke-width="0.60"/>
<line x1="282.50" y1="388.00" x2="282.50" y2="391.00" stroke-width="0.60"/>
<line x1="282.50" y1="491.90" x2="282.50" y2="493.40" stroke-width="0.60"/>
<line x1="313.55" y1="285.50" x2="313.55" y2="287.00" stroke-width="0.60"/>
<line x1="313.55" y1="388.00" x2="313.55" y2="391.00" stroke-width="0.60"/>
<line x1="313.55" y1="491.90" x2="313.55" y2="493.40" stroke-width="0.60"/>
<line x1="329.55" y1="285.50" x2="329.55" y2="288.10" stroke-width="0.60"/>
<line x1="329.55" y1="386.90" x2="329.55" y2="392.10" stroke-width="0.60"/>
<line x1="329.55" y1="490.80" x2="329.55" y2="493.40" stroke-width="0.60"/>
<line x1="345.55" y1="285.50" x2="345.55" y2="287.00" stroke-width="0.60"/>
<line x1="345.55" y1="388.00" x2="345.55" y2="391.00" stroke-width="0.60"/>
<line x1="345.55" y1="491.90" x2="345.55" y2="493.40" stroke-width="0.60"/>
<line x1="361.55" y1="285.50" x2="361.55" y2="288.10" stroke-width="0.60"/>
<line x1="361.55" y1="386.90" x2="361.55" y2="392.10" stroke-width="0.60"/>
<line x1="361.55" y1="490.80" x2="361.55" y2="493.40" stroke-width="0.60"/>
<line x1="377.55" y1="285.50" x2="377.55" y2="287.00" stroke-width="0.60"/>
<line x1="377.55" y1="388.00" x2="377.55" y2="391.00" stroke-width="0.60"/>
<line x1="377.55" y1="491.90" x2="377.55" y2="493.40" stroke-width="0.60"/>
<line x1="393.55" y1="285.50" x2="393.55" y2="288.10" stroke-width="0.60"/>
<line x1="393.55" y1="386.90" x2="393.55" y2="392.10" stroke-width="0.60"/>
<line x1="393.55" y1="490.80" x2="393.55" y2="493.40" stroke-width="0.60"/>
<line x1="409.55" y1="285.50" x2="409.55" y2="287.00" stroke-width="0.60"/>
<line x1="409.55" y1="388.00" x2="409.55" y2="391.00" stroke-width="0.60"/>
<line x1="409.55" y1="491.90" x2="409.55" y2="493.40" stroke-width="0.60"/>
<line x1="42.50" y1="115.85" x2="44.30" y2="115.85" stroke-width="0.70"/>
<line x1="42.50" y1="101.90" x2="45.40" y2="101.90" stroke-width="0.70"/>
<line x1="42.50" y1="87.95" x2="44.30" y2="87.95" stroke-width="0.70"/>
<line x1="42.50" y1="74.00" x2="45.40" y2="74.00" stroke-width="0.70"/>
<line x1="42.50" y1="60.05" x2="44.30" y2="60.05" stroke-width="0.70"/>
<line x1="42.50" y1="46.10" x2="45.40" y2="46.10" stroke-width="0.70"/>
<line x1="170.50" y1="110.30" x2="172.30" y2="110.30" stroke-width="0.70"/>
<line x1="170.50" y1="90.20" x2="172.30" y2="90.20" stroke-width="0.70"/>
<line x1="170.50" y1="70.10" x2="172.30" y2="70.10" stroke-width="0.70"/>
<line x1="170.50" y1="50.00" x2="172.30" y2="50.00" stroke-width="0.70"/>
<line x1="170.50" y1="29.90" x2="172.30" y2="29.90" stroke-width="0.70"/>
<line x1="297.55" y1="110.30" x2="299.35" y2="110.30" stroke-width="0.70"/>
<line x1="297.55" y1="90.20" x2="299.35" y2="90.20" stroke-width="0.70"/>
<line x1="297.55" y1="70.10" x2="299.35" y2="70.10" stroke-width="0.70"/>
<line x1="297.55" y1="50.00" x2="299.35" y2="50.00" stroke-width="0.70"/>
<line x1="297.55" y1="29.90" x2="299.35" y2="29.90" stroke-width="0.70"/>
<line x1="42.50" y1="215.55" x2="44.30" y2="215.55" stroke-width="0.70"/>
<line x1="42.50" y1="198.30" x2="45.40" y2="198.30" stroke-width="0.70"/>
<line x1="42.50" y1="181.05" x2="44.30" y2="181.05" stroke-width="0.70"/>
<line x1="42.50" y1="163.80" x2="45.40" y2="163.80" stroke-width="0.70"/>
<line x1="42.50" y1="146.55" x2="44.30" y2="146.55" stroke-width="0.70"/>
<line x1="170.50" y1="215.55" x2="172.30" y2="215.55" stroke-width="0.70"/>
<line x1="170.50" y1="198.30" x2="173.40" y2="198.30" stroke-width="0.70"/>
<line x1="170.50" y1="181.05" x2="172.30" y2="181.05" stroke-width="0.70"/>
<line x1="170.50" y1="163.80" x2="173.40" y2="163.80" stroke-width="0.70"/>
<line x1="170.50" y1="146.55" x2="172.30" y2="146.55" stroke-width="0.70"/>
<line x1="297.55" y1="221.85" x2="298.65" y2="221.85" stroke-width="0.70"/>
<line x1="297.55" y1="210.40" x2="300.45" y2="210.40" stroke-width="0.70"/>
<line x1="297.55" y1="198.95" x2="298.65" y2="198.95" stroke-width="0.70"/>
<line x1="297.55" y1="187.50" x2="300.45" y2="187.50" stroke-width="0.70"/>
<line x1="297.55" y1="176.05" x2="298.65" y2="176.05" stroke-width="0.70"/>
<line x1="297.55" y1="164.60" x2="300.45" y2="164.60" stroke-width="0.70"/>
<line x1="297.55" y1="153.15" x2="298.65" y2="153.15" stroke-width="0.70"/>
<line x1="297.55" y1="141.70" x2="300.45" y2="141.70" stroke-width="0.70"/>
<line x1="42.50" y1="373.50" x2="44.30" y2="373.50" stroke-width="0.70"/>
<line x1="42.50" y1="357.50" x2="45.40" y2="357.50" stroke-width="0.70"/>
<line x1="42.50" y1="341.50" x2="44.30" y2="341.50" stroke-width="0.70"/>
<line x1="42.50" y1="325.50" x2="45.40" y2="325.50" stroke-width="0.70"/>
<line x1="42.50" y1="309.50" x2="44.30" y2="309.50" stroke-width="0.70"/>
<line x1="42.50" y1="293.50" x2="45.40" y2="293.50" stroke-width="0.70"/>
<line x1="170.50" y1="373.50" x2="172.30" y2="373.50" stroke-width="0.70"/>
<line x1="170.50" y1="357.50" x2="173.40" y2="357.50" stroke-width="0.70"/>
<line x1="170.50" y1="341.50" x2="172.30" y2="341.50" stroke-width="0.70"/>
<line x1="170.50" y1="325.50" x2="173.40" y2="325.50" stroke-width="0.70"/>
<line x1="170.50" y1="309.50" x2="172.30" y2="309.50" stroke-width="0.70"/>
<line x1="170.50" y1="293.50" x2="173.40" y2="293.50" stroke-width="0.70"/>
<line x1="297.55" y1="377.80" x2="299.35" y2="377.80" stroke-width="0.70"/>
<line x1="297.55" y1="365.70" x2="300.45" y2="365.70" stroke-width="0.70"/>
<line x1="297.55" y1="353.60" x2="299.35" y2="353.60" stroke-width="0.70"/>
<line x1="297.55" y1="341.50" x2="300.45" y2="341.50" stroke-width="0.70"/>
<line x1="297.55" y1="329.40" x2="299.35" y2="329.40" stroke-width="0.70"/>
<line x1="297.55" y1="317.30" x2="300.45" y2="317.30" stroke-width="0.70"/>
<line x1="297.55" y1="305.20" x2="299.35" y2="305.20" stroke-width="0.70"/>
<line x1="297.55" y1="293.10" x2="300.45" y2="293.10" stroke-width="0.70"/>
<line x1="42.50" y1="475.20" x2="44.30" y2="475.20" stroke-width="0.70"/>
<line x1="42.50" y1="457.80" x2="45.40" y2="457.80" stroke-width="0.70"/>
<line x1="42.50" y1="440.40" x2="44.30" y2="440.40" stroke-width="0.70"/>
<line x1="42.50" y1="423.00" x2="45.40" y2="423.00" stroke-width="0.70"/>
<line x1="42.50" y1="405.60" x2="44.30" y2="405.60" stroke-width="0.70"/>
<line x1="170.50" y1="475.20" x2="172.30" y2="475.20" stroke-width="0.70"/>
<line x1="170.50" y1="457.80" x2="173.40" y2="457.80" stroke-width="0.70"/>
<line x1="170.50" y1="440.40" x2="172.30" y2="440.40" stroke-width="0.70"/>
<line x1="170.50" y1="423.00" x2="173.40" y2="423.00" stroke-width="0.70"/>
<line x1="170.50" y1="405.60" x2="172.30" y2="405.60" stroke-width="0.70"/>
<line x1="297.55" y1="475.20" x2="299.35" y2="475.20" stroke-width="0.70"/>
<line x1="297.55" y1="457.80" x2="300.45" y2="457.80" stroke-width="0.70"/>
<line x1="297.55" y1="440.40" x2="299.35" y2="440.40" stroke-width="0.70"/>
<line x1="297.55" y1="423.00" x2="300.45" y2="423.00" stroke-width="0.70"/>
<line x1="297.55" y1="405.60" x2="299.35" y2="405.60" stroke-width="0.70"/>
</g>
<text transform="rotate(0.03 42.11 19.70)" x="42.11" y="19.70" font-size="18.80" textLength="19.59" lengthAdjust="spacingAndGlyphs" fill="#000">(a)</text>
<text transform="rotate(0.03 43.06 278.70)" x="43.06" y="278.70" font-size="18.60" textLength="18.59" lengthAdjust="spacingAndGlyphs" fill="#000">(b)</text>
<text transform="rotate(0.03 192.48 20.60)" x="192.48" y="20.60" font-size="11.80" textLength="56.87" lengthAdjust="spacingAndGlyphs" fill="#000">Normal state</text>
<text transform="rotate(0.03 181.45 280.70)" x="181.45" y="280.70" font-size="11.80" textLength="98.59" lengthAdjust="spacingAndGlyphs" fill="#000">Superconducting state</text>
<text transform="rotate(0.03 32.42 247.35)" x="32.42" y="247.35" font-size="11.60" textLength="19.07" lengthAdjust="spacingAndGlyphs" fill="#000">0.00</text>
<text transform="rotate(0.03 64.57 247.35)" x="64.57" y="247.35" font-size="11.60" textLength="19.10" lengthAdjust="spacingAndGlyphs" fill="#000">0.05</text>
<text transform="rotate(0.03 96.92 247.35)" x="96.92" y="247.35" font-size="11.60" textLength="19.07" lengthAdjust="spacingAndGlyphs" fill="#000">0.10</text>
<text transform="rotate(0.03 128.82 247.35)" x="128.82" y="247.35" font-size="11.60" textLength="19.10" lengthAdjust="spacingAndGlyphs" fill="#000">0.15</text>
<text transform="rotate(0.03 160.92 247.35)" x="160.92" y="247.35" font-size="11.60" textLength="19.07" lengthAdjust="spacingAndGlyphs" fill="#000">0.00</text>
<text transform="rotate(0.03 192.72 247.35)" x="192.72" y="247.35" font-size="11.60" textLength="19.10" lengthAdjust="spacingAndGlyphs" fill="#000">0.05</text>
<text transform="rotate(0.03 224.82 247.35)" x="224.82" y="247.35" font-size="11.60" textLength="19.07" lengthAdjust="spacingAndGlyphs" fill="#000">0.10</text>
<text transform="rotate(0.03 257.62 247.35)" x="257.62" y="247.35" font-size="11.60" textLength="19.10" lengthAdjust="spacingAndGlyphs" fill="#000">0.15</text>
<text transform="rotate(0.03 289.02 247.35)" x="289.02" y="247.35" font-size="11.60" textLength="19.07" lengthAdjust="spacingAndGlyphs" fill="#000">0.00</text>
<text transform="rotate(0.03 321.02 247.35)" x="321.02" y="247.35" font-size="11.60" textLength="19.10" lengthAdjust="spacingAndGlyphs" fill="#000">0.05</text>
<text transform="rotate(0.03 353.22 247.35)" x="353.22" y="247.35" font-size="11.60" textLength="19.07" lengthAdjust="spacingAndGlyphs" fill="#000">0.10</text>
<text transform="rotate(0.03 385.32 247.35)" x="385.32" y="247.35" font-size="11.60" textLength="19.10" lengthAdjust="spacingAndGlyphs" fill="#000">0.15</text>
<text transform="rotate(0.03 40.72 506.65)" x="40.72" y="506.65" font-size="11.60" textLength="19.07" lengthAdjust="spacingAndGlyphs" fill="#000">0.00</text>
<text transform="rotate(0.03 72.82 506.65)" x="72.82" y="506.65" font-size="11.60" textLength="19.10" lengthAdjust="spacingAndGlyphs" fill="#000">0.05</text>
<text transform="rotate(0.03 105.32 506.65)" x="105.32" y="506.65" font-size="11.60" textLength="19.07" lengthAdjust="spacingAndGlyphs" fill="#000">0.10</text>
<text transform="rotate(0.03 137.82 506.65)" x="137.82" y="506.65" font-size="11.60" textLength="19.10" lengthAdjust="spacingAndGlyphs" fill="#000">0.15</text>
<text transform="rotate(0.03 161.92 506.65)" x="161.92" y="506.65" font-size="11.60" textLength="19.07" lengthAdjust="spacingAndGlyphs" fill="#000">0.00</text>
<text transform="rotate(0.03 193.82 506.65)" x="193.82" y="506.65" font-size="11.60" textLength="19.10" lengthAdjust="spacingAndGlyphs" fill="#000">0.05</text>
<text transform="rotate(0.03 225.62 506.65)" x="225.62" y="506.65" font-size="11.60" textLength="19.07" lengthAdjust="spacingAndGlyphs" fill="#000">0.10</text>
<text transform="rotate(0.03 257.72 506.65)" x="257.72" y="506.65" font-size="11.60" textLength="19.10" lengthAdjust="spacingAndGlyphs" fill="#000">0.15</text>
<text transform="rotate(0.03 288.92 506.65)" x="288.92" y="506.65" font-size="11.60" textLength="19.07" lengthAdjust="spacingAndGlyphs" fill="#000">0.00</text>
<text transform="rotate(0.03 320.92 506.65)" x="320.92" y="506.65" font-size="11.60" textLength="19.10" lengthAdjust="spacingAndGlyphs" fill="#000">0.05</text>
<text transform="rotate(0.03 353.12 506.65)" x="353.12" y="506.65" font-size="11.60" textLength="19.07" lengthAdjust="spacingAndGlyphs" fill="#000">0.10</text>
<text transform="rotate(0.03 385.22 506.65)" x="385.22" y="506.65" font-size="11.60" textLength="19.10" lengthAdjust="spacingAndGlyphs" fill="#000">0.15</text>
<text transform="rotate(0.03 52.39 260.45)" x="52.39" y="260.45" font-size="11.50" textLength="98.72" lengthAdjust="spacingAndGlyphs" fill="#000">Raman shift (in t units)</text>
<text transform="rotate(0.03 183.57 260.45)" x="183.57" y="260.45" font-size="11.50" textLength="100.65" lengthAdjust="spacingAndGlyphs" fill="#000">Raman shift (in t units)</text>
<text transform="rotate(0.03 316.78 260.45)" x="316.78" y="260.45" font-size="11.50" textLength="99.74" lengthAdjust="spacingAndGlyphs" fill="#000">Raman shift (in t units)</text>
<text transform="rotate(0.03 50.19 523.25)" x="50.19" y="523.25" font-size="11.50" textLength="98.82" lengthAdjust="spacingAndGlyphs" fill="#000">Raman shift (in t units)</text>
<text transform="rotate(0.03 183.18 523.25)" x="183.18" y="523.25" font-size="11.50" textLength="99.74" lengthAdjust="spacingAndGlyphs" fill="#000">Raman shift (in t units)</text>
<text transform="rotate(0.03 317.99 523.25)" x="317.99" y="523.25" font-size="11.50" textLength="99.23" lengthAdjust="spacingAndGlyphs" fill="#000">Raman shift (in t units)</text>
<text transform="rotate(0.03 29.52 48.30)" x="29.52" y="48.30" font-size="8.20" textLength="10.55" lengthAdjust="spacingAndGlyphs" fill="#000">2.1</text>
<text transform="rotate(0.03 29.82 76.30)" x="29.82" y="76.30" font-size="8.20" textLength="10.66" lengthAdjust="spacingAndGlyphs" fill="#000">1.4</text>
<text transform="rotate(0.03 29.60 104.40)" x="29.60" y="104.40" font-size="8.20" textLength="10.69" lengthAdjust="spacingAndGlyphs" fill="#000">0.7</text>
<text transform="rotate(0.03 29.59 131.60)" x="29.59" y="131.60" font-size="8.20" textLength="10.91" lengthAdjust="spacingAndGlyphs" fill="#000">0.0</text>
<text transform="rotate(0.03 25.50 165.70)" x="25.50" y="165.70" font-size="8.20" textLength="15.15" lengthAdjust="spacingAndGlyphs" fill="#000">0.06</text>
<text transform="rotate(0.03 25.80 200.90)" x="25.80" y="200.90" font-size="8.20" textLength="15.04" lengthAdjust="spacingAndGlyphs" fill="#000">0.03</text>
<text transform="rotate(0.03 25.70 235.70)" x="25.70" y="235.70" font-size="8.20" textLength="15.00" lengthAdjust="spacingAndGlyphs" fill="#000">0.00</text>
<text transform="rotate(0.03 32.44 295.70)" x="32.44" y="295.70" font-size="8.20" textLength="8.12" lengthAdjust="spacingAndGlyphs" fill="#000">12</text>
<text transform="rotate(0.03 36.59 328.10)" x="36.59" y="328.10" font-size="8.20" textLength="3.91" lengthAdjust="spacingAndGlyphs" fill="#000">8</text>
<text transform="rotate(0.03 36.74 360.00)" x="36.74" y="360.00" font-size="8.20" textLength="3.97" lengthAdjust="spacingAndGlyphs" fill="#000">4</text>
<text transform="rotate(0.03 36.62 391.70)" x="36.62" y="391.70" font-size="8.20" textLength="3.96" lengthAdjust="spacingAndGlyphs" fill="#000">0</text>
<text transform="rotate(0.03 25.59 425.60)" x="25.59" y="425.60" font-size="8.20" textLength="15.25" lengthAdjust="spacingAndGlyphs" fill="#000">0.06</text>
<text transform="rotate(0.03 25.60 460.60)" x="25.60" y="460.60" font-size="8.20" textLength="14.94" lengthAdjust="spacingAndGlyphs" fill="#000">0.03</text>
<text transform="rotate(0.03 25.60 495.30)" x="25.60" y="495.30" font-size="8.20" textLength="15.00" lengthAdjust="spacingAndGlyphs" fill="#000">0.00</text>
<text transform="rotate(0.03 44.11 39.40)" x="44.11" y="39.40" font-size="12.40" textLength="7.27" lengthAdjust="spacingAndGlyphs" fill="#000">B</text>
<text transform="rotate(0.03 52.07 43.10)" x="52.07" y="43.10" font-size="9.30" textLength="7.78" lengthAdjust="spacingAndGlyphs" fill="#000">1g</text>
<text transform="rotate(0.03 218.70 39.50)" x="218.70" y="39.50" font-size="12.40" textLength="6.52" lengthAdjust="spacingAndGlyphs" fill="#000">B</text>
<text transform="rotate(0.03 225.63 43.30)" x="225.63" y="43.30" font-size="9.30" textLength="8.36" lengthAdjust="spacingAndGlyphs" fill="#000">1g</text>
<text transform="rotate(0.03 346.17 39.40)" x="346.17" y="39.40" font-size="12.40" textLength="6.77" lengthAdjust="spacingAndGlyphs" fill="#000">B</text>
<text transform="rotate(0.03 353.64 43.10)" x="353.64" y="43.10" font-size="9.30" textLength="8.24" lengthAdjust="spacingAndGlyphs" fill="#000">1g</text>
<text transform="rotate(0.03 44.11 143.40)" x="44.11" y="143.40" font-size="12.40" textLength="7.27" lengthAdjust="spacingAndGlyphs" fill="#000">B</text>
<text transform="rotate(0.03 51.64 147.10)" x="51.64" y="147.10" font-size="9.30" textLength="7.92" lengthAdjust="spacingAndGlyphs" fill="#000">2g</text>
<text transform="rotate(0.03 218.21 143.20)" x="218.21" y="143.20" font-size="12.40" textLength="6.39" lengthAdjust="spacingAndGlyphs" fill="#000">B</text>
<text transform="rotate(0.03 224.79 146.90)" x="224.79" y="146.90" font-size="9.30" textLength="9.14" lengthAdjust="spacingAndGlyphs" fill="#000">2g</text>
<text transform="rotate(0.03 346.21 143.20)" x="346.21" y="143.20" font-size="12.40" textLength="6.39" lengthAdjust="spacingAndGlyphs" fill="#000">B</text>
<text transform="rotate(0.03 352.79 146.90)" x="352.79" y="146.90" font-size="9.30" textLength="9.14" lengthAdjust="spacingAndGlyphs" fill="#000">2g</text>
<text transform="rotate(0.03 44.85 300.10)" x="44.85" y="300.10" font-size="12.40" textLength="6.89" lengthAdjust="spacingAndGlyphs" fill="#000">B</text>
<text transform="rotate(0.03 52.34 303.10)" x="52.34" y="303.10" font-size="9.30" textLength="8.24" lengthAdjust="spacingAndGlyphs" fill="#000">1g</text>
<text transform="rotate(0.03 235.11 301.00)" x="235.11" y="301.00" font-size="12.40" textLength="7.27" lengthAdjust="spacingAndGlyphs" fill="#000">B</text>
<text transform="rotate(0.03 243.07 304.10)" x="243.07" y="304.10" font-size="9.30" textLength="7.78" lengthAdjust="spacingAndGlyphs" fill="#000">1g</text>
<text transform="rotate(0.03 362.11 301.00)" x="362.11" y="301.00" font-size="12.40" textLength="7.27" lengthAdjust="spacingAndGlyphs" fill="#000">B</text>
<text transform="rotate(0.03 370.07 304.10)" x="370.07" y="304.10" font-size="9.30" textLength="7.78" lengthAdjust="spacingAndGlyphs" fill="#000">1g</text>
<text transform="rotate(0.03 79.17 403.20)" x="79.17" y="403.20" font-size="12.40" textLength="6.77" lengthAdjust="spacingAndGlyphs" fill="#000">B</text>
<text transform="rotate(0.03 85.81 407.95)" x="85.81" y="407.95" font-size="9.30" textLength="8.70" lengthAdjust="spacingAndGlyphs" fill="#000">2g</text>
<text transform="rotate(0.03 237.91 405.00)" x="237.91" y="405.00" font-size="12.40" textLength="6.39" lengthAdjust="spacingAndGlyphs" fill="#000">B</text>
<text transform="rotate(0.03 244.52 408.90)" x="244.52" y="408.90" font-size="9.30" textLength="8.36" lengthAdjust="spacingAndGlyphs" fill="#000">2g</text>
<text transform="rotate(0.03 364.17 405.00)" x="364.17" y="405.00" font-size="12.40" textLength="6.77" lengthAdjust="spacingAndGlyphs" fill="#000">B</text>
<text transform="rotate(0.03 370.79 409.10)" x="370.79" y="409.10" font-size="9.30" textLength="9.14" lengthAdjust="spacingAndGlyphs" fill="#000">2g</text>
<text transform="rotate(0.03 136.61 39.30)" x="136.61" y="39.30" font-size="11.80" textLength="30.57" lengthAdjust="spacingAndGlyphs" fill="#000">p=0.16</text>
<text transform="rotate(0.03 265.51 39.30)" x="265.51" y="39.30" font-size="11.80" textLength="30.43" lengthAdjust="spacingAndGlyphs" fill="#000">p=0.22</text>
<text transform="rotate(0.03 393.01 39.30)" x="393.01" y="39.30" font-size="11.80" textLength="30.82" lengthAdjust="spacingAndGlyphs" fill="#000">p=0.29</text>
<text transform="rotate(0.03 136.61 143.30)" x="136.61" y="143.30" font-size="11.80" textLength="30.88" lengthAdjust="spacingAndGlyphs" fill="#000">p=0.16</text>
<text transform="rotate(0.03 263.60 142.70)" x="263.60" y="142.70" font-size="11.80" textLength="31.05" lengthAdjust="spacingAndGlyphs" fill="#000">p=0.22</text>
<text transform="rotate(0.03 392.01 142.70)" x="392.01" y="142.70" font-size="11.80" textLength="30.82" lengthAdjust="spacingAndGlyphs" fill="#000">p=0.29</text>
<text transform="rotate(0.03 137.51 298.10)" x="137.51" y="298.10" font-size="11.80" textLength="30.57" lengthAdjust="spacingAndGlyphs" fill="#000">p=0.16</text>
<text transform="rotate(0.03 265.51 298.50)" x="265.51" y="298.50" font-size="11.80" textLength="30.64" lengthAdjust="spacingAndGlyphs" fill="#000">p=0.22</text>
<text transform="rotate(0.03 392.61 298.00)" x="392.61" y="298.00" font-size="11.80" textLength="30.51" lengthAdjust="spacingAndGlyphs" fill="#000">p=0.29</text>
<text transform="rotate(0.03 137.51 402.10)" x="137.51" y="402.10" font-size="11.80" textLength="30.57" lengthAdjust="spacingAndGlyphs" fill="#000">p=0.16</text>
<text transform="rotate(0.03 265.01 401.70)" x="265.01" y="401.70" font-size="11.80" textLength="30.54" lengthAdjust="spacingAndGlyphs" fill="#000">p=0.22</text>
<text transform="rotate(0.03 392.62 401.70)" x="392.62" y="401.70" font-size="11.80" textLength="30.30" lengthAdjust="spacingAndGlyphs" fill="#000">p=0.29</text>
<text transform="rotate(0.03 45.18 157.50)" x="45.18" y="157.50" font-size="9.40" textLength="43.16" lengthAdjust="spacingAndGlyphs" fill="#000">Normal state</text>
<text transform="rotate(0.03 79.56 420.80)" x="79.56" y="420.80" font-size="9.40" textLength="28.47" lengthAdjust="spacingAndGlyphs" fill="#000">SC state</text>
<text transform="rotate(0.03 65.49 74.10)" x="65.49" y="74.10" font-size="10.00" textLength="9.70" lengthAdjust="spacingAndGlyphs" fill="#ff0000">AB</text>
<text transform="rotate(0.03 53.48 86.80)" x="53.48" y="86.80" font-size="10.00" textLength="5.89" lengthAdjust="spacingAndGlyphs" fill="#0000ff">B</text>
<text transform="rotate(0.03 199.69 50.80)" x="199.69" y="50.80" font-size="10.00" textLength="10.11" lengthAdjust="spacingAndGlyphs" fill="#ff0000">AB</text>
<text transform="rotate(0.03 184.34 77.70)" x="184.34" y="77.70" font-size="10.00" textLength="6.14" lengthAdjust="spacingAndGlyphs" fill="#0000ff">B</text>
<text transform="rotate(0.03 314.16 59.80)" x="314.16" y="59.80" font-size="10.00" textLength="6.02" lengthAdjust="spacingAndGlyphs" fill="#0000ff">B</text>
<text transform="rotate(0.03 307.09 76.00)" x="307.09" y="76.00" font-size="10.00" textLength="10.11" lengthAdjust="spacingAndGlyphs" fill="#ff0000">AB</text>
<text transform="rotate(0.03 65.56 172.00)" x="65.56" y="172.00" font-size="10.00" textLength="6.02" lengthAdjust="spacingAndGlyphs" fill="#0000ff">B</text>
<text transform="rotate(0.03 53.59 195.90)" x="53.59" y="195.90" font-size="10.00" textLength="10.11" lengthAdjust="spacingAndGlyphs" fill="#ff0000">AB</text>
<text transform="rotate(0.03 193.19 176.10)" x="193.19" y="176.10" font-size="10.00" textLength="5.76" lengthAdjust="spacingAndGlyphs" fill="#0000ff">B</text>
<text transform="rotate(0.03 179.69 195.90)" x="179.69" y="195.90" font-size="10.00" textLength="9.70" lengthAdjust="spacingAndGlyphs" fill="#ff0000">AB</text>
<text transform="rotate(0.03 323.46 181.10)" x="323.46" y="181.10" font-size="10.00" textLength="6.02" lengthAdjust="spacingAndGlyphs" fill="#0000ff">B</text>
<text transform="rotate(0.03 308.59 196.30)" x="308.59" y="196.30" font-size="10.00" textLength="9.80" lengthAdjust="spacingAndGlyphs" fill="#ff0000">AB</text>
<text transform="rotate(0.03 70.19 339.00)" x="70.19" y="339.00" font-size="10.00" textLength="10.01" lengthAdjust="spacingAndGlyphs" fill="#ff0000">AB</text>
<text transform="rotate(0.03 57.21 365.40)" x="57.21" y="365.40" font-size="10.00" textLength="5.64" lengthAdjust="spacingAndGlyphs" fill="#0000ff">B</text>
<text transform="rotate(0.03 211.19 330.90)" x="211.19" y="330.90" font-size="10.00" textLength="10.11" lengthAdjust="spacingAndGlyphs" fill="#ff0000">AB</text>
<text transform="rotate(0.03 200.76 349.70)" x="200.76" y="349.70" font-size="10.00" textLength="6.02" lengthAdjust="spacingAndGlyphs" fill="#0000ff">B</text>
<text transform="rotate(0.03 336.44 338.10)" x="336.44" y="338.10" font-size="10.00" textLength="6.14" lengthAdjust="spacingAndGlyphs" fill="#0000ff">B</text>
<text transform="rotate(0.03 326.19 375.20)" x="326.19" y="375.20" font-size="10.00" textLength="10.11" lengthAdjust="spacingAndGlyphs" fill="#ff0000">AB</text>
<text transform="rotate(0.03 48.06 411.20)" x="48.06" y="411.20" font-size="10.00" textLength="5.58" lengthAdjust="spacingAndGlyphs" fill="#0000ff">B</text>
<text transform="rotate(0.03 57.89 434.30)" x="57.89" y="434.30" font-size="10.00" textLength="9.70" lengthAdjust="spacingAndGlyphs" fill="#ff0000">AB</text>
<text transform="rotate(0.03 175.46 410.95)" x="175.46" y="410.95" font-size="10.00" textLength="6.02" lengthAdjust="spacingAndGlyphs" fill="#0000ff">B</text>
<text transform="rotate(0.03 185.49 434.30)" x="185.49" y="434.30" font-size="10.00" textLength="9.70" lengthAdjust="spacingAndGlyphs" fill="#ff0000">AB</text>
<text transform="rotate(0.03 303.11 410.20)" x="303.11" y="410.20" font-size="10.00" textLength="5.58" lengthAdjust="spacingAndGlyphs" fill="#0000ff">B</text>
<text transform="rotate(0.03 313.09 433.30)" x="313.09" y="433.30" font-size="10.00" textLength="9.59" lengthAdjust="spacingAndGlyphs" fill="#ff0000">AB</text>
<text transform="translate(16.00,126.31) scale(0.900,1) rotate(-90)" font-size="10.50" textLength="5.74" lengthAdjust="spacingAndGlyphs" fill="#000">χ</text>
<text transform="translate(14.80,119.35) scale(0.900,1) rotate(-90)" font-size="10.50" textLength="2.89" lengthAdjust="spacingAndGlyphs" fill="#000">&quot;</text>
<text transform="translate(20.10,116.34) scale(0.900,1) rotate(-90)" font-size="5.80" textLength="13.84" lengthAdjust="spacingAndGlyphs" fill="#000">B1g</text>
<text transform="translate(16.00,102.04) scale(0.900,1) rotate(-90)" font-size="10.80" textLength="14.98" lengthAdjust="spacingAndGlyphs" fill="#000">(ω)</text>
<text transform="translate(16.00,84.07) scale(0.900,1) rotate(-90)" font-size="11.30" textLength="55.74" lengthAdjust="spacingAndGlyphs" fill="#000">(arb.units)</text>
<text transform="translate(17.00,234.60) scale(0.900,1) rotate(-90)" font-size="10.50" textLength="5.32" lengthAdjust="spacingAndGlyphs" fill="#000">χ</text>
<text transform="translate(15.80,229.23) scale(0.900,1) rotate(-90)" font-size="10.50" textLength="2.76" lengthAdjust="spacingAndGlyphs" fill="#000">&quot;</text>
<text transform="translate(21.60,224.77) scale(0.900,1) rotate(-90)" font-size="5.80" textLength="12.31" lengthAdjust="spacingAndGlyphs" fill="#000">B1g</text>
<text transform="translate(17.00,211.50) scale(0.900,1) rotate(-90)" font-size="10.80" textLength="3.77" lengthAdjust="spacingAndGlyphs" fill="#000">(</text>
<text transform="translate(16.00,206.31) scale(0.900,1) rotate(-90)" font-size="7.00" textLength="6.03" lengthAdjust="spacingAndGlyphs" fill="#000">ω</text>
<text transform="translate(17.00,198.87) scale(0.900,1) rotate(-90)" font-size="10.80" textLength="3.77" lengthAdjust="spacingAndGlyphs" fill="#000">)</text>
<text transform="translate(17.00,193.47) scale(0.900,1) rotate(-90)" font-size="11.30" textLength="55.63" lengthAdjust="spacingAndGlyphs" fill="#000">(arb.units)</text>
<text transform="translate(20.40,380.81) scale(0.900,1) rotate(-90)" font-size="10.50" textLength="5.74" lengthAdjust="spacingAndGlyphs" fill="#000">χ</text>
<text transform="translate(19.20,375.20) scale(0.900,1) rotate(-90)" font-size="10.50" textLength="2.50" lengthAdjust="spacingAndGlyphs" fill="#000">&quot;</text>
<text transform="translate(24.00,370.31) scale(0.900,1) rotate(-90)" font-size="5.80" textLength="13.19" lengthAdjust="spacingAndGlyphs" fill="#000">B1g</text>
<text transform="translate(20.40,356.54) scale(0.900,1) rotate(-90)" font-size="10.80" textLength="14.98" lengthAdjust="spacingAndGlyphs" fill="#000">(ω)</text>
<text transform="translate(20.40,337.99) scale(0.900,1) rotate(-90)" font-size="11.30" textLength="53.73" lengthAdjust="spacingAndGlyphs" fill="#000">(arb.units)</text>
<text transform="translate(20.40,489.61) scale(0.900,1) rotate(-90)" font-size="10.50" textLength="5.74" lengthAdjust="spacingAndGlyphs" fill="#000">χ</text>
<text transform="translate(19.20,484.08) scale(0.900,1) rotate(-90)" font-size="10.50" textLength="3.16" lengthAdjust="spacingAndGlyphs" fill="#000">&quot;</text>
<text transform="translate(24.40,479.71) scale(0.900,1) rotate(-90)" font-size="5.80" textLength="13.19" lengthAdjust="spacingAndGlyphs" fill="#000">B2g</text>
<text transform="translate(20.40,466.00) scale(0.900,1) rotate(-90)" font-size="10.80" textLength="3.77" lengthAdjust="spacingAndGlyphs" fill="#000">(</text>
<text transform="translate(19.40,460.77) scale(0.900,1) rotate(-90)" font-size="7.00" textLength="5.25" lengthAdjust="spacingAndGlyphs" fill="#000">ω</text>
<text transform="translate(20.40,454.07) scale(0.900,1) rotate(-90)" font-size="10.80" textLength="3.77" lengthAdjust="spacingAndGlyphs" fill="#000">)</text>
<text transform="translate(20.40,446.34) scale(0.900,1) rotate(-90)" font-size="11.30" textLength="53.78" lengthAdjust="spacingAndGlyphs" fill="#000">(arb.units)</text>
</svg></body></html>
